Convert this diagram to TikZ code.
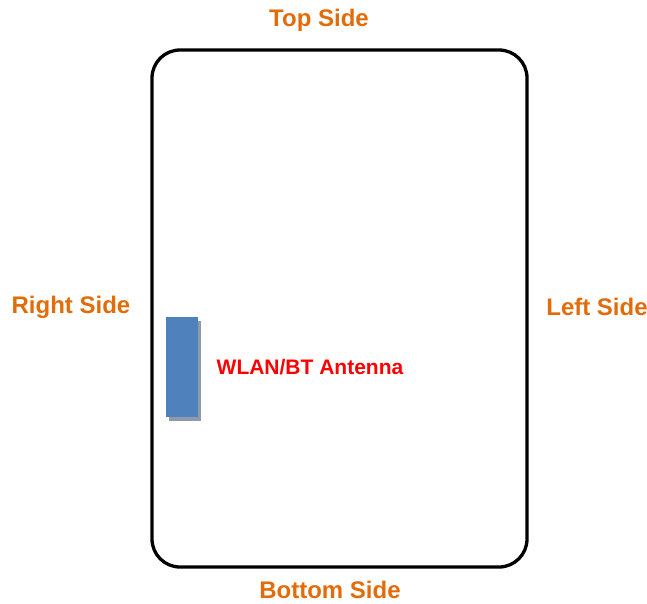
\documentclass[tikz,border=0pt]{standalone}
\usepackage{fontspec}
\setmainfont{Liberation Sans}
\usepackage{xcolor}
\usepackage{tikz}
\definecolor{sideorange}{HTML}{E36C0A}
\definecolor{antblue}{HTML}{4F81BD}
\definecolor{antshadow}{HTML}{8E9AAB}
\tikzset{side/.style={text=sideorange,inner sep=0pt,font=\fontsize{24}{26}\selectfont\bfseries}}
\begin{document}
\begin{tikzpicture}[x=1pt,y=-1pt]
\useasboundingbox (0,0) rectangle (647,603);
\draw [line width=3.3pt,rounded corners=28pt] (152,50) rectangle (527,567);
\fill [antshadow] (169,321) rectangle (201,421);
\fill [antblue] (166,317) rectangle (198,417);
\node (ant) at (310,367) {\textcolor{red}{\fontsize{21}{23}\selectfont\bfseries WLAN/BT Antenna}};
\node [side] (top) at (319,20) {Top Side};
\node [side] (bottom) at (330,590) {Bottom Side};
\node [side] (right) at (71,307) {Right Side};
\node [side] (left) at (597,307) {Left Side};
\end{tikzpicture}
\end{document}
